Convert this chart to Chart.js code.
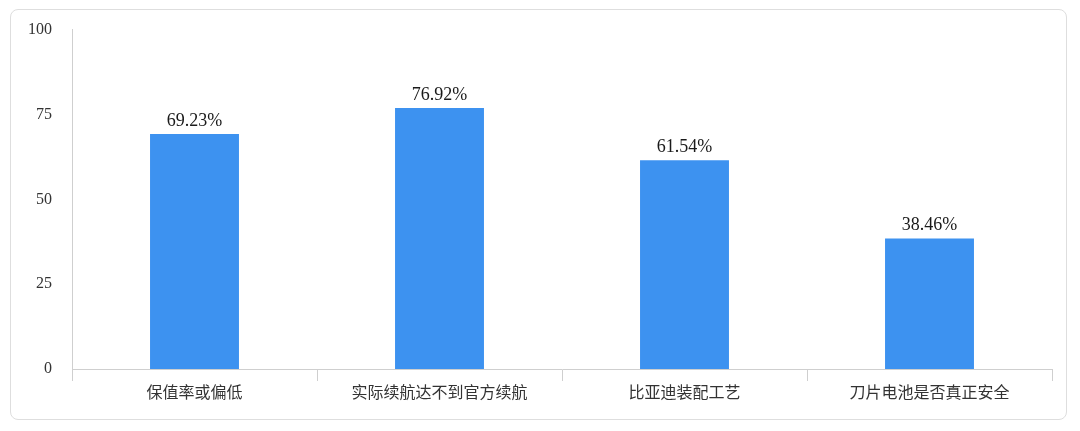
<!DOCTYPE html>
<html>
<head>
<meta charset="utf-8">
<script src="https://cdn.jsdelivr.net/npm/chart.js@4/dist/chart.umd.min.js"></script>
<style>
html,body{margin:0;padding:0;background:#fff;}
#wrap{position:relative;width:1080px;height:431px;}
#frame{position:absolute;left:10px;top:9px;width:1057px;height:411px;border:1px solid #dedede;border-radius:8px;box-sizing:border-box;pointer-events:none;}
canvas{position:absolute;left:0;top:0;}
</style>
</head>
<body>
<div id="wrap">
<div id="frame"></div>
<canvas id="c" width="1080" height="431"></canvas>
</div>
<script>
const categories = ['保值率或偏低', '实际续航达不到官方续航', '比亚迪装配工艺', '刀片电池是否真正安全'];
const values = [69.23, 76.92, 61.54, 38.46];
const valueLabels = ['69.23%', '76.92%', '61.54%', '38.46%'];
const yTicks = [0, 25, 50, 75, 100];

const labelPlugin = {
  id: 'barLabels',
  afterDatasetsDraw(chart) {
    const ctx = chart.ctx;
    const meta = chart.getDatasetMeta(0);
    ctx.save();
    ctx.font = '18px "Liberation Serif", "Times New Roman", serif';
    ctx.fillStyle = '#1a1a1a';
    ctx.textAlign = 'center';
    ctx.textBaseline = 'alphabetic';
    meta.data.forEach((bar, i) => {
      ctx.fillText(valueLabels[i], bar.x, bar.y - 8);
    });
    ctx.restore();
  }
};

new Chart(document.getElementById('c'), {
  type: 'bar',
  data: {
    labels: categories,
    datasets: [{
      data: values,
      backgroundColor: '#3d92f0',
      borderWidth: 0,
      categoryPercentage: 1,
      barPercentage: 0.363
    }]
  },
  options: {
    responsive: false,
    animation: false,
    devicePixelRatio: 1,
    layout: { padding: { left: 0, right: 28, top: 29, bottom: 22 } },
    plugins: { legend: { display: false }, tooltip: { enabled: false } },
    scales: {
      x: {
        offset: true,
        grid: { display: true, offset: true, drawOnChartArea: false, drawTicks: true, tickLength: 12, color: '#cfcfcf', lineWidth: 1 },
        border: { display: true, color: '#cfcfcf', width: 1 },
        ticks: { color: '#333', padding: 1, maxRotation: 0, autoSkip: false, font: { family: '"Noto Sans CJK SC", sans-serif', size: 16 } },
        afterFit(scale) { scale.height = 40; }
      },
      y: {
        min: 0, max: 100,
        afterBuildTicks(scale) { scale.ticks = yTicks.map(v => ({ value: v })); },
        grid: { display: false, drawTicks: false },
        border: { display: true, color: '#cfcfcf', width: 1 },
        ticks: { color: '#333', padding: 20, font: { family: '"Liberation Serif", "Times New Roman", serif', size: 16 } },
        afterFit(scale) { scale.width = 72; }
      }
    }
  },
  plugins: [labelPlugin]
});
</script>
</body>
</html>
